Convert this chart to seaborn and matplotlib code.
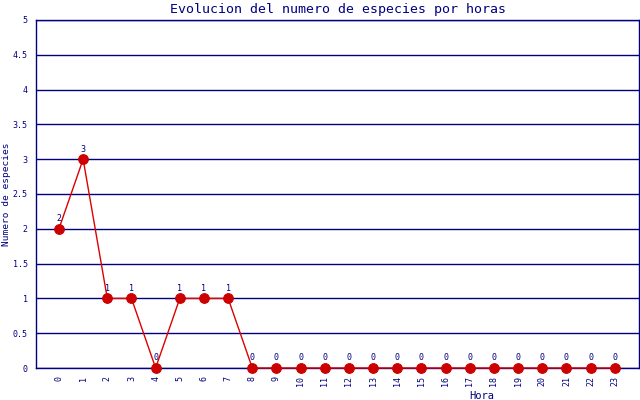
import matplotlib
matplotlib.use("Agg")
import matplotlib.pyplot as plt
import seaborn as sns
import pandas as pd

# data
horas = list(range(24))
especies = [2, 3, 1, 1, 0, 1, 1, 1, 0, 0, 0, 0, 0, 0, 0, 0, 0, 0, 0, 0, 0, 0, 0, 0]
y_ticks = [0, 0.5, 1, 1.5, 2, 2.5, 3, 3.5, 4, 4.5, 5]

df = pd.DataFrame({"Hora": horas, "Especies": especies})

navy = "#000080"
sns.set_style("white")
plt.rcParams["font.family"] = ["DejaVu Sans Mono"]

fig = plt.figure(figsize=(6.4, 4.0), dpi=100)
ax = fig.add_axes([36 / 640, 32 / 400, 603 / 640, 348 / 400])

ax.set_ylim(0, 5)
ax.set_xlim(-0.95, 24.0)
ax.set_yticks(y_ticks)
ax.set_yticklabels([f"{t:g}" for t in y_ticks], fontsize=6, color=navy)
ax.set_xticks(horas)
ax.set_xticklabels([str(h) for h in horas], fontsize=6, color=navy, rotation=90)
ax.tick_params(length=0, pad=6)
ax.grid(axis="y", color=navy, linewidth=1)
ax.set_axisbelow(True)
for side in ["left", "bottom", "right", "top"]:
    ax.spines[side].set_color(navy)
    ax.spines[side].set_linewidth(1)

sns.lineplot(data=df, x="Hora", y="Especies", ax=ax, color="#dd0000",
             linewidth=1, marker="o", markersize=7, markerfacecolor="#cc0000",
             markeredgecolor="#cc0000", zorder=3, clip_on=False)

for h, v in zip(horas, especies):
    ax.annotate(str(v), (h, v), xytext=(0, 4), textcoords="offset points",
                ha="center", va="bottom", fontsize=6, color=navy)

ax.set_title("Evolucion del numero de especies por horas", fontsize=9.5,
             color=navy, pad=5)
ax.set_ylabel("Numero de especies", fontsize=6.8, color=navy)
ax.yaxis.set_label_coords(-0.041, 0.5)
ax.set_xlabel("Hora", fontsize=7.5, color=navy)
ax.xaxis.set_label_coords(0.74, -0.065)

fig.savefig("out.png", dpi=100)
